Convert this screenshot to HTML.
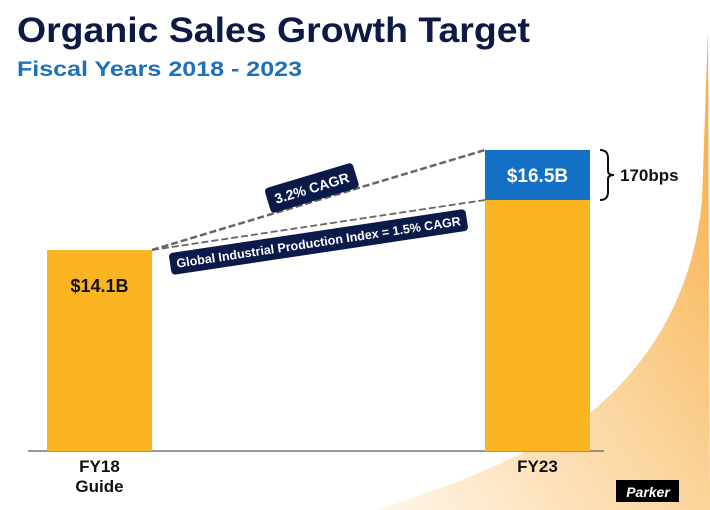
<!DOCTYPE html>
<html><head><meta charset="utf-8">
<style>
html,body{margin:0;padding:0;background:#fff;}
svg{display:block;font-family:"Liberation Sans",Arial,sans-serif;}
</style></head>
<body>
<svg id="chart" width="710" height="510" viewBox="0 0 710 510">
  <defs>
    <linearGradient id="bgGrad" x1="0" y1="1" x2="1" y2="0">
      <stop offset="0" stop-color="#fff6ea"/>
      <stop offset="0.5" stop-color="#fbd49a"/>
      <stop offset="1" stop-color="#f7a93a"/>
    </linearGradient>
  </defs>
  <path d="M708 30 L702 200 Q 690 330 590 413 Q 520 465 370 512 L710 512 Z" fill="url(#bgGrad)"/>
  <text x="17" y="42" font-size="35" font-weight="bold" fill="#0d1a45" textLength="513" lengthAdjust="spacingAndGlyphs">Organic Sales Growth Target</text>
  <text x="17" y="76" font-size="21" font-weight="bold" fill="#1f70b8" textLength="285" lengthAdjust="spacingAndGlyphs">Fiscal Years 2018 - 2023</text>
  <g id="plot"></g>
</svg>
<script>
const categories = ["FY18", "FY23"];
const catLabels = [["FY18","Guide"],["FY23"]];
const baseValues = [14.1, 15.3];
const targetValues = [14.1, 16.5];
const valueLabels = ["$14.1B", "$16.5B"];
const cagrLabels = ["3.2% CAGR", "Global Industrial Production Index = 1.5% CAGR"];
const gapLabel = "170bps";

const NS = "http://www.w3.org/2000/svg";
const g = document.getElementById("plot");
const baseY = 451, v0 = 9.276, k = 41.67;
function yScale(v){ return baseY - (v - v0) * k; }
const barX = [47, 485], barW = 105;
function xScale(i){ return barX[i]; }
function mk(tag, attrs, parent){
  const e = document.createElementNS(NS, tag);
  for (const a in attrs) e.setAttribute(a, attrs[a]);
  (parent||g).appendChild(e);
  return e;
}

const axis = mk("line",{x1:28,y1:baseY,x2:604,y2:baseY,stroke:"#777","stroke-width":1.5});



categories.forEach((c,i)=>{
  const x = xScale(i);
  const yb = yScale(baseValues[i]);
  const bar = mk("rect",{x:x,y:yb,width:barW,height:baseY-yb,fill:"#fbb523"});
  
  
  if (targetValues[i] > baseValues[i]) {
    const yt = yScale(targetValues[i]);
    const top = mk("rect",{x:x,y:yt,width:barW,height:yb-yt,fill:"#1470c4"});
    
    
    const vl = mk("text",{x:x+barW/2,y:(yt+yb)/2+7,"text-anchor":"middle","font-size":19,"font-weight":"bold",fill:"#fff"});
    vl.textContent = valueLabels[i];
    
    
    const bx = x + barW + 10;
    const br = mk("path",{d:`M${bx} ${yt} Q${bx+8} ${yt} ${bx+8} ${yt+8} L${bx+8} ${(yt+yb)/2-4} Q${bx+8} ${(yt+yb)/2} ${bx+14} ${(yt+yb)/2} Q${bx+8} ${(yt+yb)/2} ${bx+8} ${(yt+yb)/2+4} L${bx+8} ${yb-8} Q${bx+8} ${yb} ${bx} ${yb}`,fill:"none",stroke:"#111","stroke-width":2});
    
    
    const gl = mk("text",{x:bx+20,y:(yt+yb)/2+6,"font-size":17,"font-weight":"bold",fill:"#111"});
    gl.textContent = gapLabel;
    
    
  } else {
    const vl = mk("text",{x:x+barW/2,y:yb+42,"text-anchor":"middle","font-size":18,"font-weight":"bold",fill:"#111"});
    vl.textContent = valueLabels[i];
    
    
  }
  catLabels[i].forEach((t,j)=>{
    const cl = mk("text",{x:x+barW/2,y:472+j*20,"text-anchor":"middle","font-size":17,"font-weight":"bold",fill:"#111"});
    cl.textContent = t;
    
    
  });
});

const x0 = xScale(0)+barW, y0 = yScale(baseValues[0]), x1 = xScale(1);
const lineTargets = [targetValues[1], baseValues[1]];
const labelT = [0.48, 0.5];
const labelOff = [-14, 17];
lineTargets.forEach((v,i)=>{
  const y1 = yScale(v);
  const ln = mk("line",{x1:x0,y1:y0,x2:x1,y2:y1,stroke:"#666","stroke-width":i===0?2.5:1.8,"stroke-dasharray":"7 3"});
  
  
  const ang = Math.atan2(y1-y0, x1-x0)*180/Math.PI;
  const cx = x0 + (x1-x0)*labelT[i], cy = y0 + (y1-y0)*labelT[i] + labelOff[i];
  const grp = mk("g",{transform:`translate(${cx},${cy}) rotate(${ang})`});
  
  
  const w = i===0 ? 92 : 300, h = i===0 ? 26 : 22;
  const r = mk("rect",{x:-w/2,y:-h/2,width:w,height:h,rx:4,fill:"#0c1a4a"},grp);
  
  
  const t = mk("text",{x:0,y:i===0?5:4.5,"text-anchor":"middle","font-size":i===0?14:12.5,"font-weight":"bold",fill:"#fff"},grp);
  t.textContent = cagrLabels[i];
  
  
});

const logo = mk("g",{});


mk("rect",{x:616,y:480,width:63,height:22,fill:"#000"},logo);
const lt = mk("text",{x:648,y:497,"text-anchor":"middle","font-size":14,"font-weight":"bold","font-style":"italic",fill:"#fff"},logo);
lt.textContent = "Parker";


</script>
</body></html>
